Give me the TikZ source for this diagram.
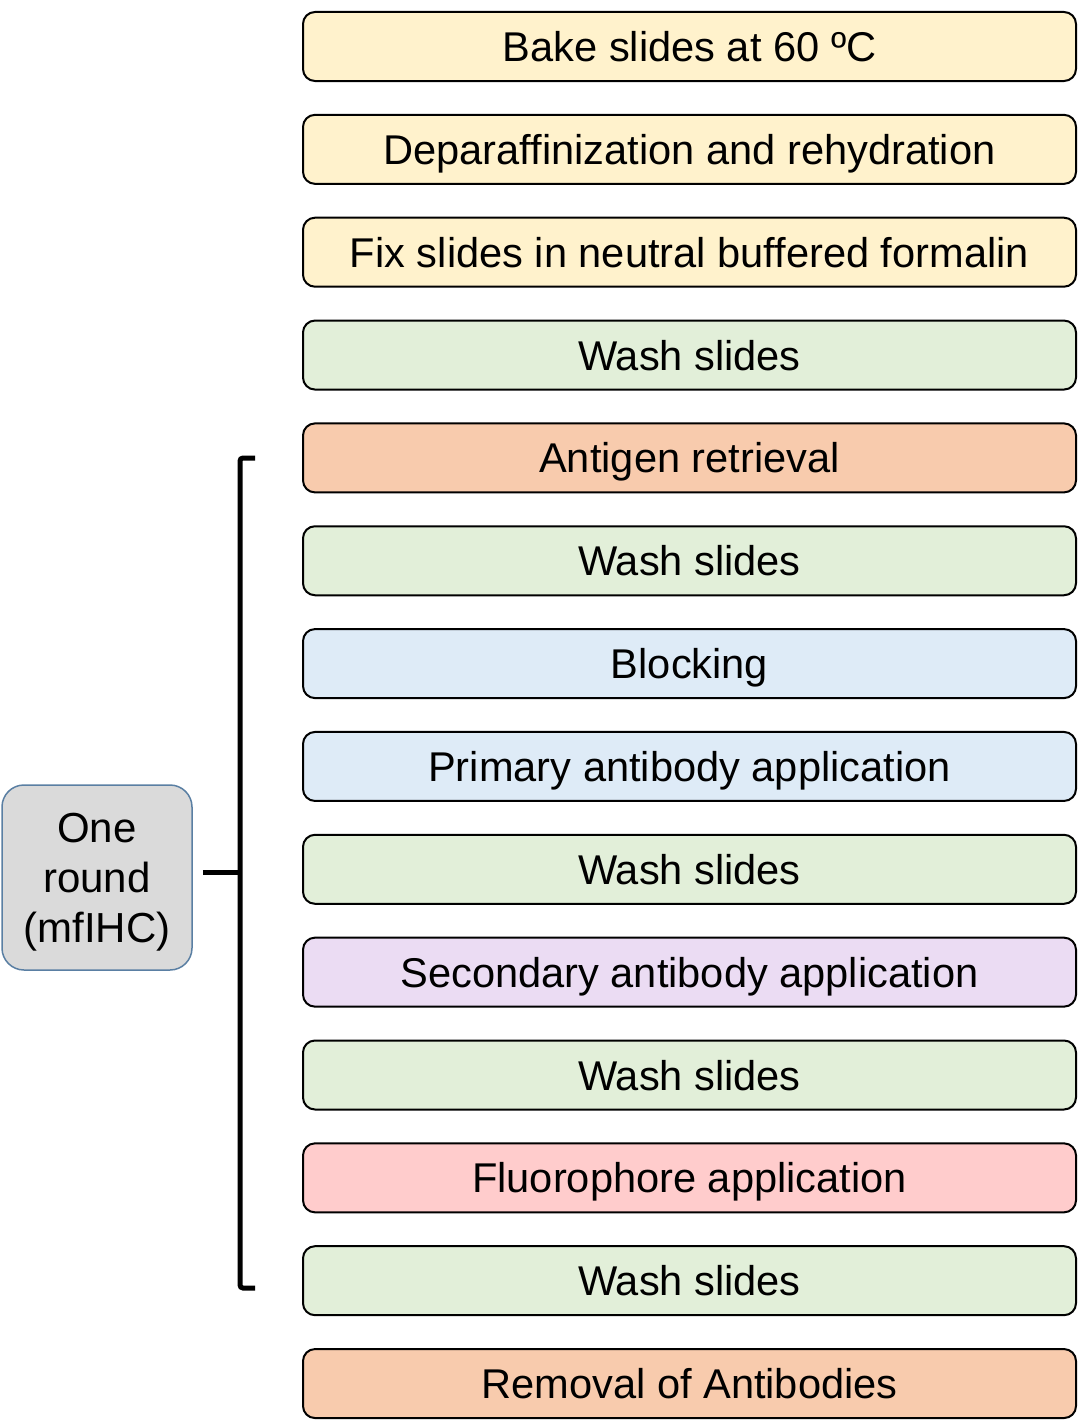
\documentclass[tikz,border=0pt]{standalone}
\usepackage{fontspec}
\setmainfont{Liberation Sans}
\definecolor{cyel}{HTML}{FFF2CC}
\definecolor{cgrn}{HTML}{E2EFD9}
\definecolor{corg}{HTML}{F8CBAD}
\definecolor{cblu}{HTML}{DEEBF7}
\definecolor{cpur}{HTML}{EBDCF3}
\definecolor{cpnk}{HTML}{FFCCCC}
\definecolor{cgry}{HTML}{DADADA}
\definecolor{cedge}{HTML}{5A7FA3}
\begin{document}
\begin{tikzpicture}[x=1pt,y=-1pt,
  stepbox/.style={draw=black, line width=2pt, rounded corners=12pt,
    minimum width=773pt, minimum height=69pt, inner sep=0pt,
    text height=30pt, text depth=0pt,
    font=\fontsize{41.6}{48}\selectfont},
  roundbox/.style={draw=cedge, fill=cgry, line width=1.5pt, rounded corners=22pt,
    minimum width=190pt, minimum height=185pt, inner sep=0pt},
  roundtext/.style={inner sep=0pt, align=center, font=\fontsize{42}{50}\selectfont},
  brace/.style={line width=5pt, rounded corners=3pt}]
\useasboundingbox (0,0) rectangle (1079,1421);
\node[stepbox, fill=cyel] (s1) at (689.5,46.5) {Bake slides at 60 ºC};
\node[stepbox, fill=cyel] (s2) at (689.5,149.35) {Deparaffinization and rehydration};
\node[stepbox, fill=cyel] (s3) at (689.5,252.2) {Fix slides in neutral buffered formalin};
\node[stepbox, fill=cgrn] (s4) at (689.5,355.05) {Wash slides};
\node[stepbox, fill=corg] (s5) at (689.5,457.9) {Antigen retrieval};
\node[stepbox, fill=cgrn] (s6) at (689.5,560.75) {Wash slides};
\node[stepbox, fill=cblu] (s7) at (689.5,663.6) {Blocking};
\node[stepbox, fill=cblu] (s8) at (689.5,766.45) {Primary antibody application};
\node[stepbox, fill=cgrn] (s9) at (689.5,869.3) {Wash slides};
\node[stepbox, fill=cpur] (s10) at (689.5,972.15) {Secondary antibody application};
\node[stepbox, fill=cgrn] (s11) at (689.5,1075) {Wash slides};
\node[stepbox, fill=cpnk] (s12) at (689.5,1177.85) {Fluorophore application};
\node[stepbox, fill=cgrn] (s13) at (689.5,1280.7) {Wash slides};
\node[stepbox, fill=corg] (s14) at (689.5,1383.55) {Removal of Antibodies};
\node[roundbox] (rd) at (97,877.5) {};
\node[roundtext] (rdt) at (97,882.5) {One\\round\\(mfIHC)};
\coordinate (btop) at (255,458);
\coordinate (bbot) at (255,1288);
\coordinate (bmid) at (240,872);
\draw[brace] (btop) -- (240,458) -- (240,1288) -- (bbot);
\draw[line width=5pt, shorten <=10pt] (rd.east |- bmid) -- (bmid);
\end{tikzpicture}
\end{document}
